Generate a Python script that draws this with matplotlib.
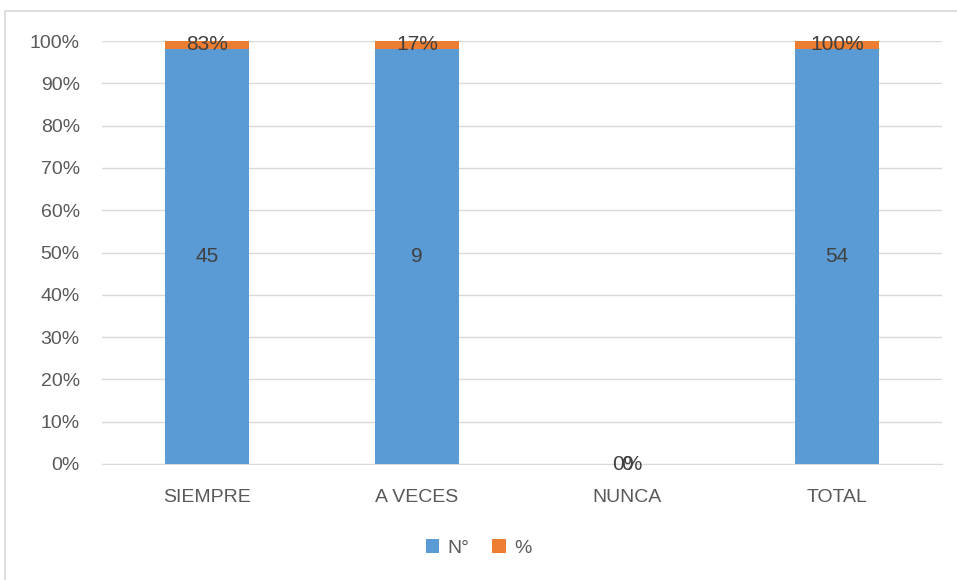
import numpy as np
import matplotlib.pyplot as plt
from matplotlib.patches import Rectangle
from matplotlib.ticker import PercentFormatter

categories = ["SIEMPRE", "A VECES", "NUNCA", "TOTAL"]
counts = [45, 9, 0, 54]          # N°
shares = [0.83, 0.17, 0.0, 1.00]  # %

plt.rcParams['font.family'] = ['Liberation Sans', 'DejaVu Sans']
grey = "#595959"

fig = plt.figure(figsize=(9.57, 5.8), dpi=100)
fig.patches.append(Rectangle((5 / 957, -0.01), 1.0, 1 - 11 / 580 + 0.01,
                             transform=fig.transFigure, fill=False,
                             edgecolor="#d9d9d9", linewidth=1.2))
ax = fig.add_axes([102 / 957, 1 - 464 / 580, 840 / 957, 423 / 580])

counts = np.array(counts, dtype=float)
shares = np.array(shares, dtype=float)
tot = counts + shares
tot[tot == 0] = 1
p_counts = counts / tot
p_shares = shares / tot

x = np.arange(len(categories))
ax.bar(x, p_counts, 0.4, color="#5b9bd5", label="N°", zorder=3)
ax.bar(x, p_shares, 0.4, bottom=p_counts, color="#ed7d31", label="%", zorder=3)

# data labels (NUNCA's two labels overlap, as in the original)
for i in range(len(x)):
    ax.text(x[i], p_counts[i] / 2, f"{counts[i]:.0f}", ha="center", va="center",
            fontsize=15, color="#404040", zorder=4)
    ax.text(x[i], p_counts[i] + p_shares[i] / 2, f"{shares[i]:.0%}", ha="center",
            va="center", fontsize=15, color="#404040", zorder=4)

ax.set_xlim(-0.5, len(x) - 0.5)
ax.set_ylim(0, 1)
ax.set_yticks(np.arange(0, 1.01, 0.1))
ax.yaxis.set_major_formatter(PercentFormatter(1.0, decimals=0))
ax.set_xticks(x)
ax.set_xticklabels(categories)
ax.tick_params(axis="both", length=0, labelsize=14, colors=grey)
ax.tick_params(axis="x", pad=18)
ax.tick_params(axis="y", pad=16)
ax.grid(axis="y", color="#d9d9d9", linewidth=1, zorder=0)
for s in ["top", "right", "left"]:
    ax.spines[s].set_visible(False)
ax.spines["bottom"].set_color("#d9d9d9")

fig.legend(loc="center", bbox_to_anchor=(0.5, 1 - 548 / 580), ncol=2, frameon=False,
           fontsize=14, labelcolor=grey, handlelength=0.7, handleheight=0.7,
           handletextpad=0.4, columnspacing=1.2)

fig.savefig("out.png", dpi=100)
